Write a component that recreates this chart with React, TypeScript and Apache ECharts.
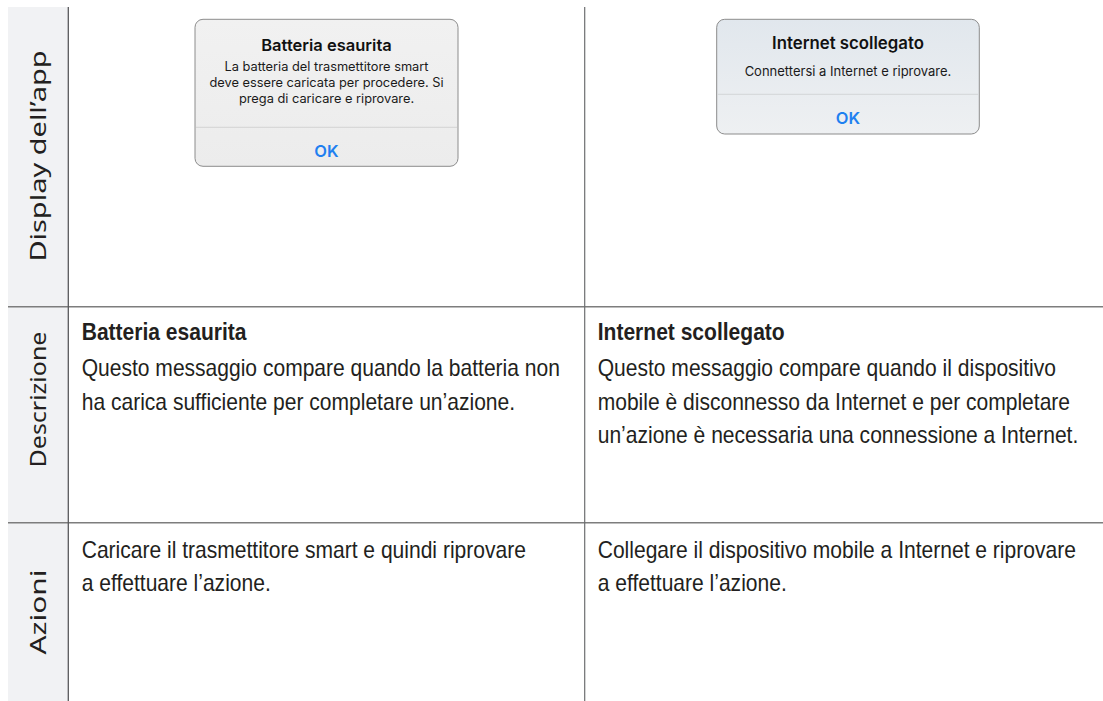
import React, { useEffect, useRef } from "react";
import * as echarts from "echarts";

// ---- content ----
const rowLabels = ["Display dell’app", "Descrizione", "Azioni"];
const dialogTitles = ["Batteria esaurita", "Internet scollegato"];
const dialogBodyLeft = [
  "La batteria del trasmettitore smart",
  "deve essere caricata per procedere. Si",
  "prega di caricare e riprovare.",
];
const dialogBodyRight = ["Connettersi a Internet e riprovare."];
const dialogButton = "OK";
const descTitles = ["Batteria esaurita", "Internet scollegato"];
const descLinesLeft = [
  "Questo messaggio compare quando la batteria non",
  "ha carica sufficiente per completare un’azione.",
];
const descLinesRight = [
  "Questo messaggio compare quando il dispositivo",
  "mobile è disconnesso da Internet e per completare",
  "un’azione è necessaria una connessione a Internet.",
];
const actionLinesLeft = [
  "Caricare il trasmettitore smart e quindi riprovare",
  "a effettuare l’azione.",
];
const actionLinesRight = [
  "Collegare il dispositivo mobile a Internet e riprovare",
  "a effettuare l’azione.",
];

const TEXT = "#231f20";
const BODY_FONT = "'Liberation Sans', Arial, sans-serif";
const DLG_FONT = "Inter, 'Noto Sans', sans-serif";
const LABEL_FONT = "'Noto Sans', 'Open Sans', sans-serif";
const SX = 0.915;

function bodyText(x: number, y: number, text: string, bold = false) {
  return {
    type: "text",
    x,
    y,
    scaleX: SX,
    style: {
      text,
      fill: TEXT,
      fontFamily: BODY_FONT,
      fontSize: 23,
      fontWeight: bold ? "bold" : "normal",
      align: "left",
      verticalAlign: "middle",
    },
  };
}

function dlgText(x: number, y: number, text: string, size: number, weight: string, color: string) {
  return {
    type: "text",
    x,
    y,
    style: {
      text,
      fill: color,
      fontFamily: DLG_FONT,
      fontSize: size,
      fontWeight: weight,
      align: "center",
      verticalAlign: "middle",
    },
  };
}

function rowLabel(cy: number, text: string, sx: number) {
  return {
    type: "text",
    x: 38,
    y: cy,
    rotation: Math.PI / 2,
    scaleX: sx,
    style: {
      text,
      fill: TEXT,
      fontFamily: LABEL_FONT,
      fontSize: 21,
      align: "center",
      verticalAlign: "middle",
    },
  };
}

export default function App() {
  const ref = useRef<HTMLDivElement>(null);
  useEffect(() => {
    document.body.style.margin = "0";
    if (!ref.current) return;
    const chart = echarts.init(ref.current, null, { renderer: "svg" });
    const els: any[] = [];
    // left column background
    els.push({ type: "rect", shape: { x: 8, y: 7, width: 60, height: 694 }, style: { fill: "#f1f2f4" } });
    // grid lines
    els.push({ type: "line", shape: { x1: 8, y1: 306.7, x2: 1103, y2: 306.7 }, style: { stroke: "#7d7d7d", lineWidth: 1.6 } });
    els.push({ type: "line", shape: { x1: 8, y1: 522.7, x2: 1103, y2: 522.7 }, style: { stroke: "#7d7d7d", lineWidth: 1.6 } });
    els.push({ type: "line", shape: { x1: 68.3, y1: 7, x2: 68.3, y2: 701 }, style: { stroke: "#58595b", lineWidth: 1.3 } });
    els.push({ type: "line", shape: { x1: 584.7, y1: 7, x2: 584.7, y2: 701 }, style: { stroke: "#6d6e70", lineWidth: 1.2 } });

    // row labels
    els.push(rowLabel(156, rowLabels[0], 1.38));
    els.push(rowLabel(399.5, rowLabels[1], 1.19));
    els.push(rowLabel(612, rowLabels[2], 1.42));

    // dialog 1
    els.push({
      type: "rect",
      shape: { x: 195, y: 19.3, width: 263, height: 147, r: 8 },
      style: {
        fill: { type: "linear", x: 0, y: 0, x2: 0, y2: 1, colorStops: [{ offset: 0, color: "#f1f1f1" }, { offset: 1, color: "#ececec" }] },
        stroke: "#8c8c8c",
        lineWidth: 1,
      },
    });
    els.push({ type: "line", shape: { x1: 196, y1: 127.3, x2: 457, y2: 127.3 }, style: { stroke: "#d2d2d2", lineWidth: 1 } });
    els.push(dlgText(326.5, 45, dialogTitles[0], 16.5, "600", "#111"));
    dialogBodyLeft.forEach((t, i) => els.push(dlgText(326.5, 66.7 + i * 15.8, t, 12.8, "normal", "#1a1a1a")));
    els.push(dlgText(326.5, 151, dialogButton, 16.5, "600", "#1f80f0"));

    // dialog 2
    els.push({
      type: "rect",
      shape: { x: 716.7, y: 19.3, width: 262.6, height: 114.7, r: 8 },
      style: {
        fill: { type: "linear", x: 0, y: 0, x2: 0, y2: 1, colorStops: [{ offset: 0, color: "#e1e7ed" }, { offset: 1, color: "#eef0f2" }] },
        stroke: "#8c8c8c",
        lineWidth: 1,
      },
    });
    els.push({ type: "line", shape: { x1: 717.7, y1: 94.3, x2: 978.3, y2: 94.3 }, style: { stroke: "#d2d5d8", lineWidth: 1 } });
    els.push(dlgText(848, 43.3, dialogTitles[1], 16.8, "600", "#111"));
    dialogBodyRight.forEach((t, i) => els.push(dlgText(848, 70.7 + i * 15.8, t, 13, "normal", "#1a1a1a")));
    els.push(dlgText(848, 117.7, dialogButton, 16.5, "600", "#1f80f0"));

    // description row
    const colX = [81.7, 597.7];
    els.push(bodyText(colX[0], 332, descTitles[0], true));
    els.push(bodyText(colX[1], 332, descTitles[1], true));
    descLinesLeft.forEach((t, i) => els.push(bodyText(colX[0], 368.5 + i * 33.5, t)));
    descLinesRight.forEach((t, i) => els.push(bodyText(colX[1], 368.5 + i * 33.5, t)));

    // actions row
    actionLinesLeft.forEach((t, i) => els.push(bodyText(colX[0], 550 + i * 33.5, t)));
    actionLinesRight.forEach((t, i) => els.push(bodyText(colX[1], 550 + i * 33.5, t)));

    chart.setOption({
      animation: false,
      backgroundColor: "#ffffff",
      graphic: { elements: els },
    });
    return () => chart.dispose();
  }, []);
  return <div ref={ref} style={{ position: "fixed", left: 0, top: 0, width: 1103, height: 701 }} />;
}
